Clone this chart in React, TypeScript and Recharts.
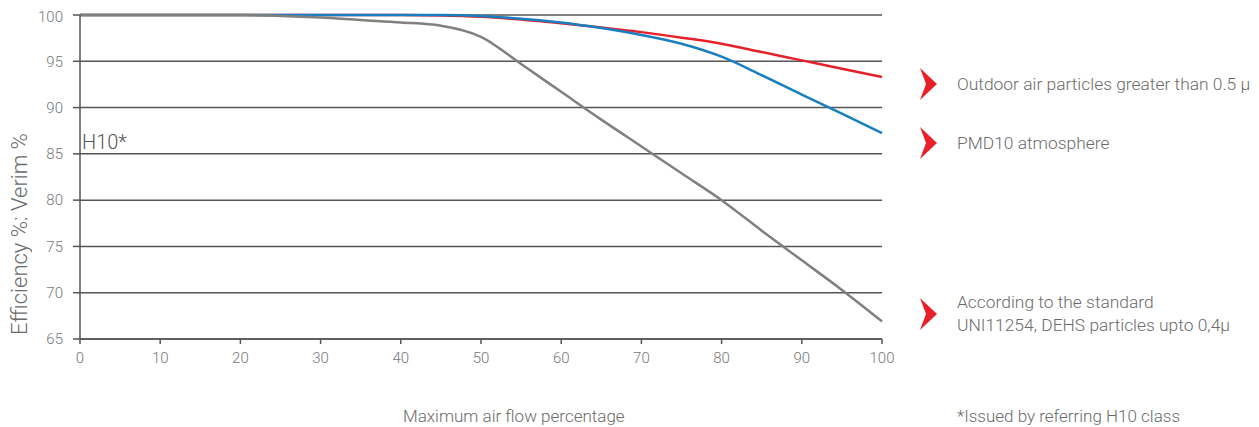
import React from "react";
import { LineChart, Line, XAxis, YAxis, CartesianGrid } from "recharts";

// air flow percentage (x) and efficiency values
const flowSteps = [0, 5, 10, 15, 20, 25, 30, 35, 40, 45, 50, 55, 60, 65, 70, 75, 80, 85, 90, 95, 100];
const outdoorValues = [100, 100, 100, 100, 100, 100, 100, 100, 100, 99.95, 99.8, 99.5, 99.1, 98.65, 98.15, 97.55, 96.9, 96.0, 95.1, 94.2, 93.3];
const pmdValues = [100, 100, 100, 100, 100, 100, 100, 100, 100, 100, 99.9, 99.6, 99.2, 98.6, 97.85, 96.9, 95.5, 93.5, 91.4, 89.35, 87.25];
const uniValues = [100, 100, 100, 100, 100, 99.9, 99.72, 99.45, 99.2, 98.85, 97.65, 94.7, 91.7, 88.7, 85.8, 82.9, 80.0, 76.7, 73.5, 70.3, 66.9];

const xTicks = [0, 10, 20, 30, 40, 50, 60, 70, 80, 90, 100];
const yTicks = [65, 70, 75, 80, 85, 90, 95, 100];

const legendItems = [
  { lines: ["Outdoor air particles greater than 0.5 μ"], top: 60 },
  { lines: ["PMD10 atmosphere"], top: 119 },
  { lines: ["According to the standard", "UNI11254, DEHS particles upto 0,4μ"], top: 283 },
];

const rows = flowSteps.map((x, i) => ({
  x,
  outdoor: outdoorValues[i],
  pmd: pmdValues[i],
  uni: uniValues[i],
}));

const FONT = "Roboto, 'Noto Sans', sans-serif";
const TEXT_GREY = "#6b6b6b";
const GRID = "#555";

function Arrow() {
  return (
    <svg width={17} height={32} style={{ display: "block" }}>
      <polygon points="0,0 17,16 0,32 6,16" fill="#e8202a" />
    </svg>
  );
}

export default function App() {
  return (
    <div
      style={{
        position: "relative",
        width: 1243,
        height: 419,
        overflow: "hidden",
        fontFamily: FONT,
        color: TEXT_GREY,
      }}
    >
      <LineChart width={900} height={400} data={rows} margin={{ top: 7, right: 26, left: 0, bottom: 0 }}>
        <CartesianGrid horizontal vertical={false} stroke={GRID} strokeWidth={1.5} />
        <XAxis
          dataKey="x"
          type="number"
          domain={[0, 100]}
          ticks={xTicks}
          height={69}
          stroke={GRID}
          strokeWidth={1.5}
          tickSize={5}
          tickMargin={8}
          tick={{ fontSize: 15, fill: "#777", fontFamily: FONT, fontWeight: 300 }}
        />
        <YAxis
          type="number"
          domain={[65, 100]}
          ticks={yTicks}
          width={72}
          stroke={GRID}
          strokeWidth={1.5}
          tickSize={7}
          tickMargin={10}
          tick={{ fontSize: 15, fill: "#777", fontFamily: FONT, fontWeight: 300 }}
        />
        <Line type="monotone" dataKey="outdoor" stroke="#e8202a" strokeWidth={2.5} dot={false} isAnimationActive={false} />
        <Line type="monotone" dataKey="pmd" stroke="#1a7fc0" strokeWidth={2.5} dot={false} isAnimationActive={false} />
        <Line type="monotone" dataKey="uni" stroke="#808080" strokeWidth={2.5} dot={false} isAnimationActive={false} />
      </LineChart>

      {/* H10 class mark */}
      <div style={{ position: "absolute", left: 74, top: 124, fontSize: 20, fontWeight: 300, color: "#555", lineHeight: "20px" }}>H10*</div>

      {/* y axis title, drawn vertically */}
      <div
        style={{
          position: "absolute",
          left: 1,
          top: 96,
          height: 260,
          width: 22,
          writingMode: "vertical-rl",
          transform: "rotate(180deg)",
          textAlign: "center",
          fontSize: 22,
          fontWeight: 300,
          lineHeight: "22px",
          whiteSpace: "nowrap",
        }}
      >
        Efficiency %: Verim %
      </div>

      {/* x axis title */}
      <div style={{ position: "absolute", left: 395, top: 400, fontSize: 17, fontWeight: 300, lineHeight: "17px", whiteSpace: "nowrap" }}>
        Maximum air flow percentage
      </div>

      {legendItems.map((item) => (
        <div key={item.lines[0]} style={{ position: "absolute", left: 912, top: item.top, display: "flex", alignItems: "center" }}>
          <Arrow />
          <div style={{ marginLeft: 20, fontSize: 17.4, fontWeight: 300, lineHeight: "23px", whiteSpace: "nowrap" }}>
            {item.lines.map((l) => (
              <div key={l}>{l}</div>
            ))}
          </div>
        </div>
      ))}

      <div style={{ position: "absolute", left: 949, top: 400, fontSize: 17, fontWeight: 300, lineHeight: "17px", whiteSpace: "nowrap" }}>
        *Issued by referring H10 class
      </div>
    </div>
  );
}
